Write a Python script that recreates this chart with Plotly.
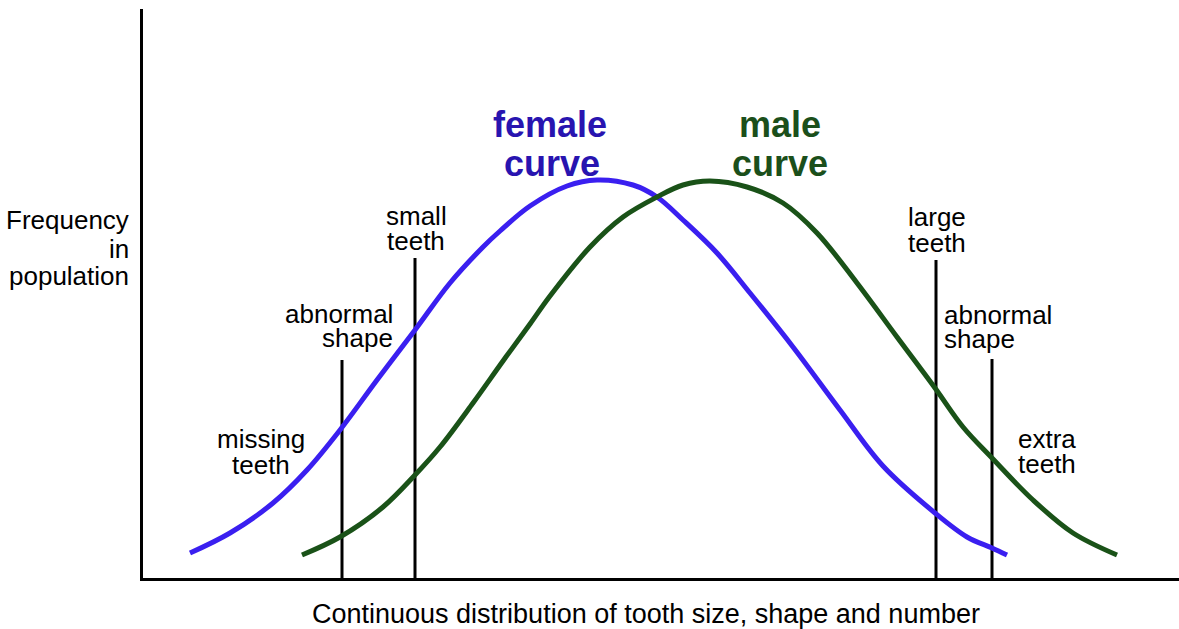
import plotly.graph_objects as go

# Horizontal position (pixel-like units) and frequency height above the baseline
female_x = [190, 230, 273, 307, 340, 377, 415, 450, 483, 500, 530, 567, 597, 633, 657,
            683, 717, 750, 793, 840, 883, 935, 967, 992, 1007]
female_y = [25, 45, 75, 108, 148, 198, 248, 295, 331, 347, 372, 392, 398, 393, 381,
            358, 325, 285, 231, 168, 112, 65, 41, 30, 23]

male_x = [302, 340, 383, 415, 440, 473, 503, 530, 550, 590, 623, 657, 683, 710, 747,
          783, 817, 857, 897, 935, 963, 992, 1033, 1073, 1117]
male_y = [23, 41, 71, 103, 131, 175, 217, 254, 282, 331, 361, 381, 393, 397, 391,
          375, 345, 295, 241, 190, 151, 120, 78, 45, 23]

# Threshold markers
marker_x = [342, 415, 936, 992]
marker_top = [218, 320, 318, 219]

# Labels: (text, x, y, anchor)
label_lines = [
    ("small", 416, 362, "center"), ("teeth", 416, 337, "center"),
    ("abnormal", 395, 264, "right"), ("shape", 395, 240, "right"),
    ("missing", 261, 139, "center"), ("teeth", 261, 113, "center"),
    ("large", 937, 361, "center"), ("teeth", 937, 335, "center"),
    ("abnormal", 942, 263, "left"), ("shape", 942, 239, "left"),
    ("extra", 1016, 139, "left"), ("teeth", 1016, 114, "left"),
]
curve_titles = [
    ("female", 550, 454, "#2814b0"), ("curve", 552, 415, "#2814b0"),
    ("male", 780, 454, "#1b4f1b"), ("curve", 780, 415, "#1b4f1b"),
]
ylabel_lines = ["Frequency", "in", "population"]
ylabel_heights = [358, 329, 302]
xlabel = "Continuous distribution of tooth size, shape and number"

FONT = "Liberation Sans, Arial, sans-serif"

fig = go.Figure()

mx, my = [], []
for x, t in zip(marker_x, marker_top):
    mx += [x, x, None]
    my += [0, t, None]
fig.add_trace(go.Scatter(x=mx, y=my, mode="lines",
                         line=dict(color="black", width=3), hoverinfo="skip"))

fig.add_trace(go.Scatter(x=female_x, y=female_y, mode="lines", line_shape="spline",
                         line=dict(color="#3a1ff0", width=5), name="female"))
fig.add_trace(go.Scatter(x=male_x, y=male_y, mode="lines", line_shape="spline",
                         line=dict(color="#1a5218", width=5), name="male"))

ann = []
for text, x, y, al in label_lines:
    ann.append(dict(text=text, x=x, y=y, xref="x", yref="y", xanchor=al, yanchor="middle",
                    showarrow=False, font=dict(family=FONT, size=26, color="black")))
for text, x, y, c in curve_titles:
    ann.append(dict(text="<b>" + text + "</b>", x=x, y=y, xref="x", yref="y",
                    xanchor="center", yanchor="middle", showarrow=False,
                    font=dict(family=FONT, size=36, color=c)))
W, H = 1036.0, 569.0
for text, h in zip(ylabel_lines, ylabel_heights):
    ann.append(dict(text=text, x=(131 - 143) / W, y=h / H, xref="paper", yref="paper",
                    xanchor="right", yanchor="middle", showarrow=False,
                    font=dict(family=FONT, size=26, color="black")))
ann.append(dict(text=xlabel, x=(646 - 143) / W, y=-36 / H, xref="paper", yref="paper",
                xanchor="center", yanchor="middle", showarrow=False,
                font=dict(family=FONT, size=27, color="black")))

fig.update_layout(
    width=1179, height=629,
    margin=dict(l=143, r=0, t=9, b=51),
    paper_bgcolor="white", plot_bgcolor="white",
    showlegend=False,
    annotations=ann,
    xaxis=dict(range=[143, 1179], showgrid=False, zeroline=False, showticklabels=False,
               ticks="", showline=True, linecolor="black", linewidth=3),
    yaxis=dict(range=[0, 569], showgrid=False, zeroline=False, showticklabels=False,
               ticks="", showline=True, linecolor="black", linewidth=3),
)

fig.write_html("out.html", config={"displayModeBar": False},
               post_script="document.body.style.margin='0';document.body.style.overflow='hidden';")
